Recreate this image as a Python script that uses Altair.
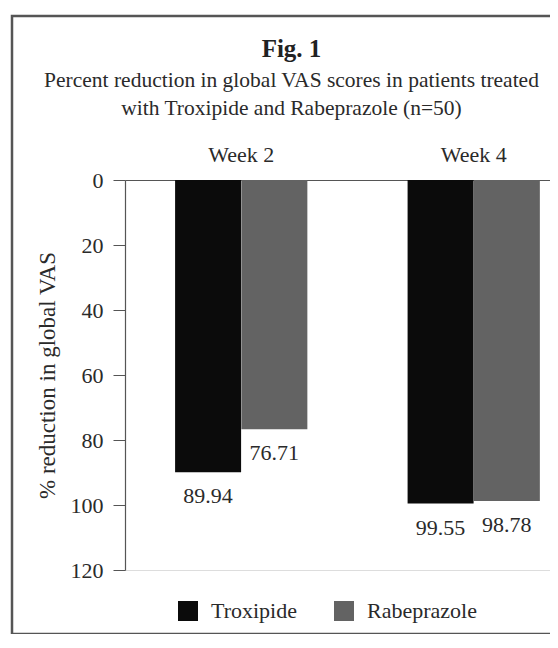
import altair as alt
import pandas as pd

weeks = ["Week 2", "Week 2", "Week 4", "Week 4"]
drugs = ["Troxipide", "Rabeprazole", "Troxipide", "Rabeprazole"]
values = [89.94, 76.71, 99.55, 98.78]
labels = ["89.94", "76.71", "99.55", "98.78"]
drug_order = ["Troxipide", "Rabeprazole"]
drug_colors = ["#0b0b0b", "#636363"]
y_ticks = [0, 20, 40, 60, 80, 100, 120]

df = pd.DataFrame({"week": weeks, "drug": drugs, "value": values, "label": labels})

FONT = "Liberation Serif"
TXT = "#2a2a2a"

x_enc = alt.X(
    "week:N",
    title=None,
    scale=alt.Scale(paddingInner=0.43, paddingOuter=0.129, align=0.833),
    axis=alt.Axis(orient="top", ticks=False, tickSize=0, labelAngle=0,
                  labelFont=FONT, labelFontSize=22, labelColor=TXT,
                  labelPadding=14, domainColor="#555", domainWidth=1.2),
)
xoff = alt.XOffset("drug:N", sort=drug_order, scale=alt.Scale(paddingInner=0, paddingOuter=0))
y_enc = alt.Y(
    "value:Q",
    scale=alt.Scale(domain=[0, 120], reverse=True, nice=False),
    axis=alt.Axis(values=y_ticks, title="% reduction in global VAS", grid=False,
                  tickSize=12, tickColor="#555", domainColor="#555", domainWidth=1.2,
                  labelFont=FONT, labelFontSize=22, labelColor=TXT, labelPadding=10,
                  titleFont=FONT, titleFontSize=23, titleFontWeight="normal",
                  titleColor=TXT, titleX=-66, titleY=195),
)

bars = alt.Chart(df).mark_bar(size=66).encode(
    x=x_enc,
    xOffset=xoff,
    y=y_enc,
    color=alt.Color(
        "drug:N",
        sort=drug_order,
        scale=alt.Scale(domain=drug_order, range=drug_colors),
        legend=alt.Legend(
            title=None, orient="none", legendX=52, legendY=420, direction="horizontal",
            symbolType="square", symbolSize=400, symbolStrokeWidth=0,
            labelFont=FONT, labelFontSize=22, labelColor=TXT, labelOffset=12,
            columnPadding=36,
        ),
    ),
)

text = alt.Chart(df).mark_text(font=FONT, fontSize=22, color=TXT, dy=24, baseline="middle").encode(
    x=alt.X("week:N"),
    xOffset=alt.XOffset("drug:N", sort=drug_order),
    y=alt.Y("value:Q"),
    text="label:N",
)

frame = alt.Chart(pd.DataFrame({"f": [0]})).mark_rect(
    fill=None, stroke="#555", strokeWidth=2.5
).encode(
    x=alt.value(-113), x2=alt.value(460), y=alt.value(-164), y2=alt.value(454)
)

chart = alt.layer(frame, bars, text).properties(
    width=425,
    height=390,
    title=alt.TitleParams(
        text="Fig. 1",
        subtitle=["Percent reduction in global VAS scores in patients treated",
                  "with Troxipide and Rabeprazole (n=50)"],
        anchor="middle", dx=-46, offset=-105,
        font=FONT, fontSize=25, fontWeight="bold", color="#222",
        subtitleFont=FONT, subtitleFontSize=21.5, subtitleColor=TXT,
        subtitlePadding=8, subtitleLineHeight=28,
    ),
    autosize=alt.AutoSizeParams(type="none"),
    padding={"left": 117, "top": 172, "right": 0, "bottom": 64},
).configure_view(stroke=None).configure(background="white")

chart.save("out.html", embed_options={"renderer": "svg", "actions": False})
